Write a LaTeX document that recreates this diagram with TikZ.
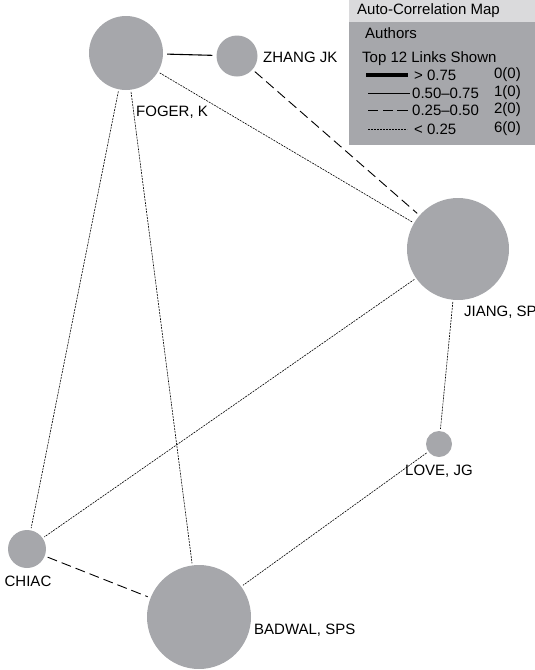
\documentclass[tikz,border=0pt]{standalone}
\usepackage{fontspec}
\setmainfont{Liberation Sans}
\usetikzlibrary{positioning}

\definecolor{authorgray}{RGB}{166,167,171}
\definecolor{headgray}{RGB}{218,218,220}

\tikzset{
  author/.style={circle,fill=authorgray,inner sep=0pt,minimum size=#1},
  txt/.style={inner sep=0pt,font=\fontsize{15}{18}\selectfont},
  strong/.style={line width=1.1pt,shorten <=4pt,shorten >=4pt},
  medium/.style={line width=0.9pt,dash pattern=on 10pt off 5pt,shorten <=3pt,shorten >=3pt},
  weak/.style={line width=0.6pt,dash pattern=on 2pt off 1pt,shorten <=2pt,shorten >=2pt},
}

\begin{document}
\begin{tikzpicture}[x=1pt,y=-1pt]
  \clip (0,0) rectangle (535,670);
  % authors
  \node [author=74pt] (foger) at (126,53) {};
  \node [author=41pt] (zhang) at (237,56) {};
  \node [author=102pt] (jiang) at (458,249) {};
  \node [author=26pt] (love) at (439,444) {};
  \node [author=38pt] (chiac) at (27,549) {};
  \node [author=104pt] (badwal) at (199,617) {};
  \node [txt,anchor=west] (fogerlbl) at (136,112) {FOGER, K};
  \node [txt,anchor=west] (zhanglbl) at (263,57) {ZHANG JK};
  \node [txt,anchor=west] (jianglbl) at (464,312) {JIANG, SP};
  \node [txt,anchor=west] (lovelbl) at (405,471) {LOVE, JG};
  \node [txt] (chiaclbl) at (28,581) {CHIAC};
  \node [txt,anchor=west] (badwallbl) at (254,630) {BADWAL, SPS};
  % links
  \draw [strong] (foger) -- (zhang);
  \draw [medium] (zhang) -- (jiang);
  \draw [medium] (chiac) -- (badwal);
  \draw [weak] (foger) -- (jiang);
  \draw [weak] (foger) -- (chiac);
  \draw [weak] (foger) -- (badwal);
  \draw [weak] (jiang) -- (chiac);
  \draw [weak] (jiang) -- (love);
  \draw [weak] (love) -- (badwal);
  % legend
  \fill [authorgray] (349,0) rectangle (535,145);
  \fill [headgray] (349,0) rectangle (535,22);
  \node [txt,anchor=west] (title) at (357,11) {Auto-Correlation Map};
  \node [txt,anchor=west] (authors) at (365,33) {Authors};
  \node [txt,anchor=west] (shown) at (362,59) {Top 12 Links Shown};
  \coordinate (ka) at (366,75); \coordinate (kb) at (408,75);
  \coordinate (la) at (368,93); \coordinate (lb) at (410,93);
  \coordinate (ma) at (368,110); \coordinate (mb) at (408,110);
  \coordinate (na) at (368,129); \coordinate (nb) at (407,129);
  \draw [line width=3.5pt] (ka) -- (kb);
  \draw [line width=0.9pt] (la) -- (lb);
  \draw [line width=0.9pt,dash pattern=on 10pt off 5pt on 10pt off 4pt on 1pt off 0pt] (ma) -- (mb);
  \draw [line width=0.6pt,dash pattern=on 2pt off 1pt] (na) -- (nb);
  \node [txt,anchor=west] (ktxt) at (414,75) {> 0.75};
  \node [txt,anchor=west] (ltxt) at (412,93) {0.50–0.75};
  \node [txt,anchor=west] (mtxt) at (412,110) {0.25–0.50};
  \node [txt,anchor=west] (ntxt) at (414,129) {< 0.25};
  \node [txt,anchor=east] (knum) at (521,75) {0(0)};
  \node [txt,anchor=east] (lnum) at (521,93) {1(0)};
  \node [txt,anchor=east] (mnum) at (521,110) {2(0)};
  \node [txt,anchor=east] (nnum) at (521,129) {6(0)};
\end{tikzpicture}
\end{document}
